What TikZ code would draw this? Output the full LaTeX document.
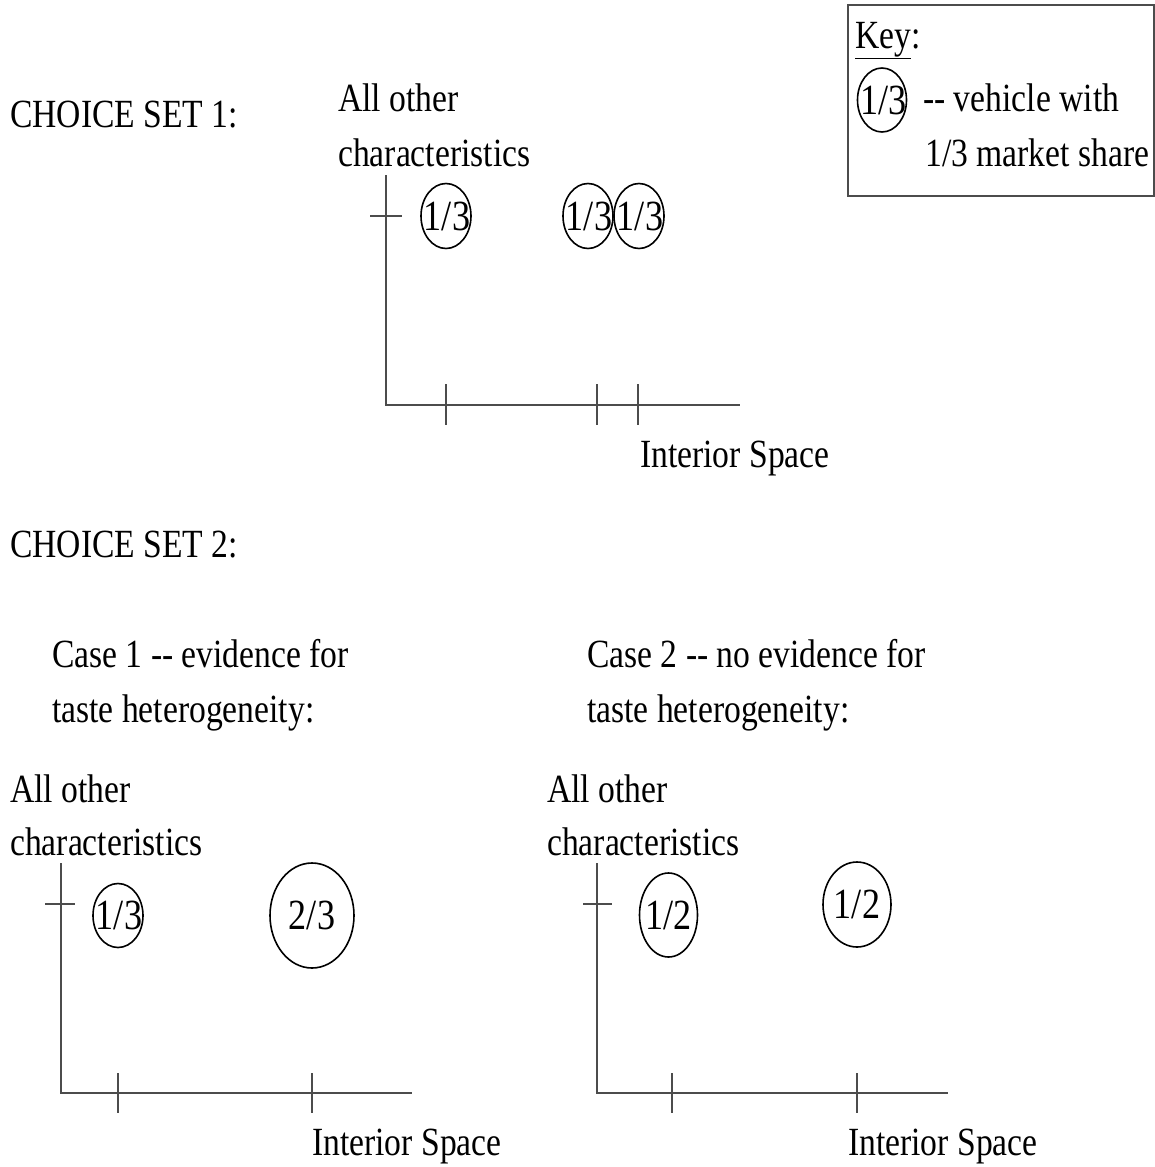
\documentclass[tikz,border=0pt]{standalone}
\usepackage{fontspec}
\setmainfont{Liberation Serif}[FakeStretch=0.84]
\usetikzlibrary{shapes.geometric}
\begin{document}
\begin{tikzpicture}[x=1pt,y=-1pt,
  txt/.style={anchor=base west, inner sep=0pt, font=\fontsize{40}{55}\selectfont},
  share/.style={ellipse, draw, line width=1.6pt, inner sep=0pt, font=\fontsize{43}{55}\selectfont},
  axis/.style={line width=1.3pt, black!70},
]
\useasboundingbox (0,0) rectangle (1155,1167);

% Key
\draw[axis] (848,5) rectangle (1154,196);
\node[txt] (key) at (855,48) {\underline{Key}:};
\node[share, minimum width=49pt, minimum height=64pt] (kc) at (882,100) {\makebox[0pt]{\hspace{3pt}1/3}};
\node[txt] (kt1) at (923,111) {{-}{-} vehicle with};
\node[txt] (kt2) at (925,166) {1/3 market share};

% Choice set 1
\node[txt] (cs1) at (10,127) {CHOICE SET 1:};
\node[txt] (ao1) at (338,111) {All other};
\node[txt] (ch1) at (338,166) {characteristics};
\draw[axis] (386,175) -- (386,405) -- (740,405);
\draw[axis] (370,216) -- (402,216);
\foreach \x in {446,597,638} \draw[axis] (\x,384) -- (\x,425);
\node[share, minimum width=50pt, minimum height=65pt] (a1) at (446,216) {\makebox[0pt]{\hspace{2pt}1/3}};
\node[share, minimum width=50pt, minimum height=65pt] (a2) at (588,216) {\makebox[0pt]{\hspace{2pt}1/3}};
\node[share, minimum width=50pt, minimum height=65pt] (a3) at (639,216) {\makebox[0pt]{\hspace{2pt}1/3}};
\node[txt] (is1) at (640,467) {Interior Space};

% Choice set 2
\node[txt] (cs2) at (10,557) {CHOICE SET 2:};
\node[txt] (c1a) at (52,667) {Case 1 {-}{-} evidence for};
\node[txt] (c1b) at (52,722) {taste heterogeneity:};
\node[txt] (c2a) at (587,667) {Case 2 {-}{-} no evidence for};
\node[txt] (c2b) at (587,722) {taste heterogeneity:};

% Case 1 chart
\node[txt] (ao2) at (10,802) {All other};
\node[txt] (ch2) at (10,855) {characteristics};
\draw[axis] (61,863) -- (61,1093) -- (412,1093);
\draw[axis] (45,904) -- (75,904);
\foreach \x in {118,312} \draw[axis] (\x,1073) -- (\x,1113);
\node[share, minimum width=50pt, minimum height=64pt] (b1) at (118,915.5) {\makebox[0pt]{\hspace{2pt}1/3}};
\node[share, minimum width=84pt, minimum height=105pt] (b2) at (312,915.5) {\makebox[0pt]{2/3}};
\node[txt] (is2) at (312,1155) {Interior Space};

% Case 2 chart
\node[txt] (ao3) at (547,802) {All other};
\node[txt] (ch3) at (547,855) {characteristics};
\draw[axis] (597,863) -- (597,1093) -- (948,1093);
\draw[axis] (583,904) -- (612,904);
\foreach \x in {672,857} \draw[axis] (\x,1073) -- (\x,1113);
\node[share, minimum width=58pt, minimum height=84pt] (d1) at (668.5,915) {\makebox[0pt]{1/2}};
\node[share, minimum width=68pt, minimum height=85pt] (d2) at (857,904.5) {\makebox[0pt]{1/2}};
\node[txt] (is3) at (848,1155) {Interior Space};
\end{tikzpicture}
\end{document}
